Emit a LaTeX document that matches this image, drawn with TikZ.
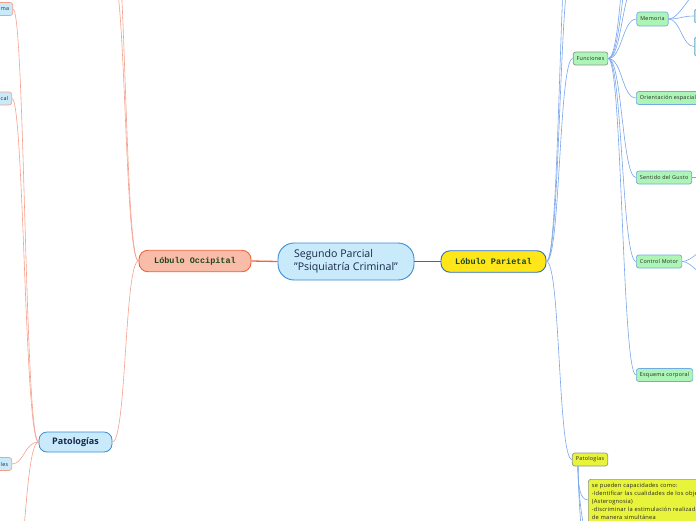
\documentclass[tikz,border=0pt]{standalone}
\usepackage{fontspec}
\setmainfont{Open Sans}
\setmonofont{Liberation Mono}
\begin{document}
\begin{tikzpicture}[x=1pt,y=-1pt,
  rootnode/.style={draw=rootline, fill=rootfill, line width=0.9pt, rounded corners=16pt,
    minimum width=136pt, minimum height=37pt, align=left, text=navytext,
    font=\fontsize{10.6}{13}\selectfont},
  lobenode/.style={line width=0.9pt, rounded corners=9pt, minimum height=21.5pt,
    text=lobetext, font=\ttfamily\bfseries\fontsize{8.5}{10}\selectfont},
  patnode/.style={draw=rootline, fill=rootfill, line width=0.8pt, rounded corners=8pt,
    minimum width=73pt, minimum height=20pt, text=navytext,
    font=\bfseries\fontsize{9}{11}\selectfont},
  smallnode/.style={line width=0.7pt, rounded corners=2.5pt, minimum height=13pt,
    inner xsep=3.5pt, inner ysep=1pt, text=black!85,
    font=\fontsize{5.4}{6}\selectfont\addfontfeatures{LetterSpace=5}},
  funnode/.style={smallnode, draw=greyline, fill=leafgreen},
  leafnode/.style={smallnode, draw=leafline, fill=leafgreen},
  cutnode/.style={smallnode, draw=salmonline, fill=rootfill, anchor=east,
    text width=30pt, align=right},
  bluelink/.style={draw=linkblue, line width=0.6pt},
  redlink/.style={draw=salmonline, line width=0.6pt}]
\definecolor{rootline}{RGB}{60,140,215}
\definecolor{rootfill}{RGB}{200,234,250}
\definecolor{navytext}{RGB}{25,40,75}
\definecolor{lobetext}{RGB}{30,70,30}
\definecolor{occfill}{RGB}{248,188,168}
\definecolor{occline}{RGB}{240,100,60}
\definecolor{parfill}{RGB}{255,230,25}
\definecolor{parline}{RGB}{45,110,200}
\definecolor{leafgreen}{RGB}{172,245,182}
\definecolor{leafline}{RGB}{115,170,225}
\definecolor{greyline}{RGB}{140,150,140}
\definecolor{patfill}{RGB}{232,243,60}
\definecolor{linkblue}{RGB}{120,165,235}
\definecolor{salmonline}{RGB}{245,160,140}
\useasboundingbox (0,0) rectangle (696,520);
\node[rootnode] (root) at (346,261.5) {Segundo Parcial\\"Psiquiatría Criminal"};
\node[lobenode, draw=occline, fill=occfill, minimum width=112pt] (occ) at (195,261) {Lóbulo Occipital};
\node[lobenode, draw=parline, fill=parfill, minimum width=105pt] (par) at (493.5,261.5) {Lóbulo Parietal};
\node[patnode] (patL) at (75.5,442) {Patologías};
\node[cutnode] (pl1) at (13,9) {ma};
\node[cutnode] (pl2) at (12,98.5) {cal};
\node[cutnode] (pl3) at (12,464) {les};
\node[funnode] (fun) at (590.5,58.5) {Funciones};
\node[leafnode, minimum height=14pt] (mem) at (652.5,19) {Memoria};
\node[leafnode, anchor=west, minimum width=30pt, minimum height=14pt] (memA) at (694,16) {};
\node[leafnode, anchor=west, minimum width=30pt, minimum height=19pt] (memB) at (694,46.5) {};
\node[leafnode, anchor=west] (ori) at (636,98) {Orientación espacial};
\node[leafnode, anchor=west] (gus) at (636,177.5) {Sentido del Gusto};
\node[leafnode, anchor=west] (mot) at (636,261.5) {Control Motor};
\node[leafnode, anchor=west] (esq) at (636,375) {Esquema corporal};
\node[funnode, fill=patfill] (patR) at (590,459.5) {Patologías};
\node[smallnode, draw=greyline, fill=patfill, anchor=north west, text width=150pt, align=left,
  inner ysep=4pt, font=\fontsize{5.7}{8}\selectfont\addfontfeatures{LetterSpace=4}] (box) at (588,479)
  {se pueden capacidades como:\\-Identificar las cualidades de los objetos\\(Asterognosia)\\-discriminar la estimulación realizada\\de manera simultánea};
\coordinate (occOff1) at (112,-30);
\coordinate (occOff2) at (112,-90);
\coordinate (patLOff) at (13,590);
\coordinate (parOff1) at (573,-40);
\coordinate (parOff2) at (573,-110);
\coordinate (funOff1) at (636,-15);
\coordinate (funOff2) at (636,-50);
\coordinate (funOff3) at (636,-95);
\coordinate (memTop) at (705,-14);
\coordinate (gusOff) at (712,177.5);
\coordinate (motOff1) at (712,246);
\coordinate (motOff2) at (712,280);
\coordinate (patROff1) at (600,560);
\coordinate (patROff2) at (600,610);
\draw[occline, line width=1.3pt] (root.west) -- (occ.east);
\draw[parline, line width=1.3pt] (root.east) -- (par.west);
\foreach \t in {occOff1,occOff2,patL.east}
  \draw[redlink] (occ.west) .. controls +(-14,0) and +(14,0) .. (\t);
\foreach \t in {pl1.east,pl2.east,pl3.east,patLOff}
  \draw[redlink] (patL.west) .. controls +(-14,0) and +(12,0) .. (\t);
\foreach \t in {parOff1,parOff2,fun.west,patR.west}
  \draw[bluelink] (par.east) .. controls +(14,0) and +(-14,0) .. (\t);
\foreach \t in {funOff1,funOff2,funOff3,mem.west,ori.west,gus.west,mot.west,esq.west}
  \draw[bluelink] (fun.east) .. controls +(14,0) and +(-14,0) .. (\t);
\foreach \t in {memTop,memA.west,memB.west}
  \draw[bluelink] (mem.east) .. controls +(12,0) and +(-12,0) .. (\t);
\draw[bluelink] (gus.east) -- (gusOff);
\foreach \t in {motOff1,motOff2}
  \draw[bluelink] (mot.east) .. controls +(10,0) and +(-10,0) .. (\t);
\draw[bluelink] ([xshift=6pt]patR.south west) .. controls +(0,20) and +(-8,0) .. ([yshift=-21pt]box.north west);
\foreach \t in {patROff1,patROff2}
  \draw[bluelink] ([xshift=6pt]patR.south west) .. controls +(0,25) and +(-16,0) .. (\t);
\end{tikzpicture}
\end{document}
